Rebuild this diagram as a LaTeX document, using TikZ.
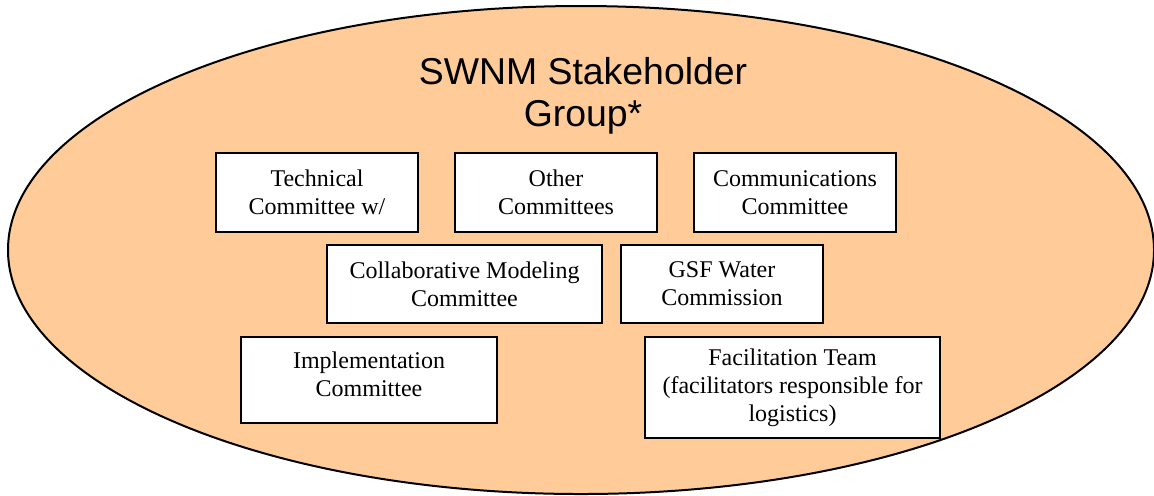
\documentclass[tikz,border=0pt]{standalone}
\usepackage{fontspec}
\setmainfont{Liberation Serif}
\newfontfamily\titlefont{Liberation Sans}
\usepackage{xcolor}
\usepackage{tikz}
\usetikzlibrary{positioning}
\definecolor{peach}{RGB}{255,204,153}
\tikzset{
  title/.style={align=center,font=\titlefont\fontsize{18.7}{21}\selectfont},
  box/.style={draw,fill=white,line width=0.75pt,align=center,inner sep=0pt,
    font=\fontsize{12}{14}\selectfont,minimum width=101pt,minimum height=39.5pt}
}
\begin{document}
\begin{tikzpicture}[x=1pt,y=1pt,every node/.style={on grid}]
    \useasboundingbox (0,0) rectangle (577,-247.5);
    \filldraw[fill=peach,line width=1pt] (290.5,-125) ellipse [x radius=286.5,y radius=122];
    \node[title] (group) at (291.5,-48) {SWNM Stakeholder\\Group*};
    % top row
    \node[box] (other) at (278,-96.25) {Other\\Committees};
    \node[box,left=119.5pt of other] (tech) {Technical\\Committee w/};
    \node[box,right=119.5pt of other] (comm) {Communications\\Committee};
    % middle row
    \node[box,minimum width=137.5pt,minimum height=39pt] (model) at (232.25,-142) {Collaborative Modeling\\Committee};
    \node[box,minimum height=39pt,right=128.75pt of model] (gsf) {GSF Water\\Commission};
    % bottom row
    \node[box,minimum width=128pt,minimum height=43pt,text depth=6pt] (impl) at (184.5,-190) {Implementation\\Committee};
    \node[box,minimum width=147.5pt,minimum height=50.5pt] (facil) at (396.25,-193.75) {Facilitation Team\\(facilitators responsible for\\logistics)};
\end{tikzpicture}
\end{document}
